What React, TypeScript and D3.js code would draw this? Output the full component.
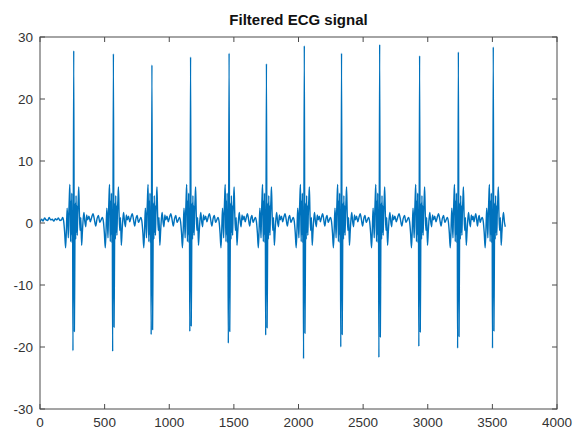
import React from 'react';
import * as d3 from 'd3';

// ---- data ----
const xTicks = [0, 500, 1000, 1500, 2000, 2500, 3000, 3500, 4000];
const yTicks = [-30, -20, -10, 0, 10, 20, 30];
const signalEnd = 3600;

// sample index of each R peak
const beatTimes = [261, 568, 866, 1165, 1463, 1752, 2045, 2333, 2628, 2937, 3237, 3507];
const rPeaks = [27.8, 27.3, 25.5, 26.8, 27.4, 25.7, 28.6, 27.4, 28.8, 27.0, 27.6, 28.4];
const qTroughs = [-20.6, -20.7, -18.0, -17.5, -19.4, -18.1, -21.9, -20.0, -21.7, -19.9, -20.2, -20.2];
const sTroughs = [-17.5, -16.8, -17.2, -16.6, -17.5, -16.9, -17.8, -18.0, -18.4, -17.6, -18.3, -17.4];
const qrsOffsets = [-6, 0, 5]; // Q, R, S sample offsets

// oscillations around each QRS complex (sample offset from R, value)
const complexOffsets = [-95, -86, -78, -70, -63, -57, -51, -46, -42, -38, -34, -30, -27, -24, -21, -18, -15, -12, -9,
  9, 12, 15, 18, 21, 24, 27, 31, 35, 39, 44, 49, 55, 61, 67, 73, 79, 86, 93, 100, 107];
const complexValues = [0.5, 0.9, 0.3, -1.6, -4.0, -1.2, 2.4, 0.2, -2.4, 1.6, 4.2, 6.2, 0.8, -3.0, 3.5, -1.8, 4.8, -3.2, 2.0,
  -3.5, 3.2, -2.6, 4.4, -1.5, 2.8, -2.0, 1.6, 3.8, 5.8, 1.4, -1.2, 0.9, -3.6, -1.4, 0.6, 1.7, 0.2, -0.6, 1.3, 0.5];

// small wiggles between complexes, and the flat lead-in
const gapValues = [1.1, 0.2, 0.9, 1.5, 0.6, -0.5, 0.7, 1.2, 0.1];
const leadValues = [0.1, 0.6, 0.3, 0.8, 0.5, 0.4, 0.9, 0.5, 0.6, 0.3, 0.7, 0.5, 0.8, 0.4];

const W = 575, H = 429;
const M = { left: 40, right: 557, top: 37, bottom: 409 };

function buildSignal(): [number, number][] {
  const pts: [number, number][] = [];
  const firstStart = beatTimes[0] + complexOffsets[0];
  leadValues.forEach((v, i) => pts.push([(i * firstStart) / leadValues.length, v]));
  beatTimes.forEach((bt, b) => {
    const beat: [number, number][] = complexOffsets.map((o, i) => [bt + o, complexValues[i]]);
    beat.push([bt + qrsOffsets[0], qTroughs[b]], [bt + qrsOffsets[1], rPeaks[b]], [bt + qrsOffsets[2], sTroughs[b]]);
    beat.sort((a, c) => a[0] - c[0]);
    beat.forEach(p => { if (p[0] <= signalEnd) pts.push(p); });
    if (b < beatTimes.length - 1) {
      const s = bt + complexOffsets[complexOffsets.length - 1];
      const e = beatTimes[b + 1] + complexOffsets[0];
      gapValues.forEach((v, i) => pts.push([s + ((i + 1) * (e - s)) / (gapValues.length + 1), v]));
    }
  });
  return pts;
}

export default function App() {
  const x = d3.scaleLinear().domain([0, 4000]).range([M.left, M.right]);
  const y = d3.scaleLinear().domain([-30, 30]).range([M.bottom, M.top]);
  const data = buildSignal();
  const line = d3.line<[number, number]>().x(d => x(d[0])).y(d => y(d[1])).curve(d3.curveMonotoneX);
  const axisColor = '#4a4a4a';
  const font = '"Liberation Sans", Arial, Helvetica, sans-serif';
  const tl = 5;
  return (
    <svg width={W} height={H} style={{ position: 'absolute', left: 0, top: 0, background: '#fff' }}>
      <defs>
        <clipPath id="plot">
          <rect x={M.left} y={M.top} width={M.right - M.left} height={M.bottom - M.top} />
        </clipPath>
      </defs>
      <rect x={0} y={0} width={W} height={H} fill="#fff" />
      <path d={line(data) || ''} fill="none" stroke="#0072BD" strokeWidth={1.4} strokeLinejoin="round" clipPath="url(#plot)" />
      <rect x={M.left} y={M.top} width={M.right - M.left} height={M.bottom - M.top} fill="none" stroke={axisColor} strokeWidth={1} />
      {xTicks.map(t => (
        <g key={'x' + t}>
          <line x1={x(t)} x2={x(t)} y1={M.bottom} y2={M.bottom - tl} stroke={axisColor} />
          <line x1={x(t)} x2={x(t)} y1={M.top} y2={M.top + tl} stroke={axisColor} />
          <text x={x(t)} y={427} textAnchor="middle" fontFamily={font} fontSize={13.5} fill="#333">{t}</text>
        </g>
      ))}
      {yTicks.map(t => (
        <g key={'y' + t}>
          <line x1={M.left} x2={M.left + tl} y1={y(t)} y2={y(t)} stroke={axisColor} />
          <line x1={M.right} x2={M.right - tl} y1={y(t)} y2={y(t)} stroke={axisColor} />
          <text x={33} y={y(t)} dy="0.36em" textAnchor="end" fontFamily={font} fontSize={13.5} fill="#333">{t}</text>
        </g>
      ))}
      <text x={(M.left + M.right) / 2} y={25} textAnchor="middle" fontFamily={font} fontSize={15} fontWeight="bold" fill="#111">
        Filtered ECG signal
      </text>
    </svg>
  );
}
